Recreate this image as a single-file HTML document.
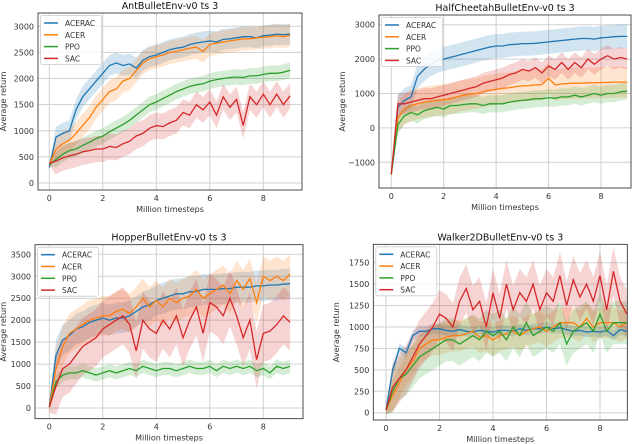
<!DOCTYPE html>
<html><head><meta charset="utf-8"><style>
body{margin:0;background:#fff;width:640px;height:444px;overflow:hidden}
svg{display:block;font-family:"DejaVu Sans","Liberation Sans",sans-serif}
</style></head><body>
<svg id="fig" width="640" height="444" viewBox="0 0 640 444"></svg>
<script>
const xSteps=[0,0.25,0.5,0.75,1,1.25,1.5,1.75,2,2.25,2.5,2.75,3,3.25,3.5,3.75,4,4.25,4.5,4.75,5,5.25,5.5,5.75,6,6.25,6.5,6.75,7,7.25,7.5,7.75,8,8.25,8.5,8.75,9];
const seriesNames=["ACERAC","ACER","PPO","SAC"];
const xTicks=[0,2,4,6,8];
// Ant
const antACERAC=[300,880,950,1000,1400,1650,1800,1950,2100,2250,2300,2250,2280,2200,2350,2420,2450,2500,2550,2580,2600,2650,2680,2700,2720,2700,2750,2760,2780,2800,2800,2780,2820,2830,2850,2840,2850];
const antACER=[350,650,750,820,950,1100,1250,1450,1600,1750,1800,1950,2000,2150,2300,2380,2420,2450,2500,2520,2550,2580,2600,2520,2650,2680,2700,2720,2740,2760,2760,2780,2790,2800,2820,2800,2830];
const antPPO=[350,450,550,620,650,720,780,850,900,980,1050,1120,1200,1300,1400,1500,1550,1620,1680,1750,1800,1850,1880,1900,1950,1980,2000,2020,2030,2020,2050,2050,2080,2100,2100,2120,2160];
const antSAC=[380,420,480,520,550,600,620,650,650,700,680,750,800,900,950,1050,1100,1080,1150,1200,1350,1300,1500,1400,1550,1300,1650,1450,1600,1100,1650,1500,1700,1500,1700,1500,1670];
const antSpread=[200,220,150,250];
const antYTicks=[0,500,1000,1500,2000,2500,3000];
// HalfCheetah
const hcACERAC=[-1350,600,800,900,1500,1700,1850,1950,2000,2050,2100,2150,2200,2250,2300,2350,2380,2380,2420,2430,2450,2450,2460,2480,2500,2520,2540,2560,2580,2600,2600,2580,2620,2630,2650,2660,2660];
const hcACER=[-1350,300,550,650,700,750,780,800,820,850,900,950,980,1000,1050,1100,1120,1150,1170,1200,1220,1230,1250,1260,1450,1250,1280,1290,1300,1300,1310,1310,1320,1320,1330,1330,1330];
const hcPPO=[-1350,100,350,450,380,500,550,600,550,650,650,680,700,700,650,700,700,700,750,780,800,820,850,850,880,860,900,900,950,900,950,1000,950,1000,1000,1050,1070];
const hcSAC=[-1350,700,700,750,800,850,850,900,950,1000,1050,1100,1150,1200,1300,1350,1400,1450,1550,1600,1700,1650,1750,1600,1800,1700,1900,1700,1900,1750,2000,1850,2000,2100,2000,2050,2000];
const hcSpread=[350,450,250,300];
const hcYTicks=[-1000,0,1000,2000,3000];
// Hopper
const hopACERAC=[20,1200,1550,1650,1800,1850,1950,2000,2050,2000,2050,2050,2100,2200,2300,2350,2450,2500,2550,2600,2600,2650,2650,2700,2700,2700,2720,2720,2750,2750,2750,2780,2780,2800,2800,2820,2830];
const hopACER=[20,900,1400,1700,1800,1900,2000,2050,2100,2100,2200,2250,2150,2300,2500,2300,2450,2300,2500,2400,2500,2550,2700,2500,2600,2700,2800,2600,2900,2700,2950,2400,3000,2900,3000,2900,3050];
const hopPPO=[20,600,750,800,800,850,800,750,800,850,800,850,900,850,950,900,850,900,900,850,900,950,900,900,950,850,950,900,950,900,950,850,900,800,950,900,950];
const hopSAC=[20,500,900,1000,1200,1400,1500,1600,1800,1900,2000,2100,1900,1300,2000,1800,1700,2000,1800,2100,1600,2000,2300,1700,2400,2300,2100,2500,2100,1600,2000,1100,1700,1750,1900,2100,1950];
const hopSpread=[350,450,150,650];
const hopYTicks=[0,500,1000,1500,2000,2500,3000,3500];
// Walker
const wkACERAC=[30,500,750,700,900,950,950,980,980,960,950,970,950,940,960,950,940,960,960,950,980,960,980,980,1000,980,990,970,950,960,940,950,940,960,900,970,950];
const wkACER=[30,200,350,500,600,750,800,850,850,880,900,900,920,950,880,900,850,900,920,950,900,950,980,1000,950,1000,1050,1050,1050,1000,1100,1000,1050,1050,1050,1000,1050];
const wkPPO=[30,250,400,450,550,650,700,750,800,850,850,800,850,900,850,950,900,950,850,1000,900,1050,900,950,1000,950,1050,800,950,1000,1050,950,1150,950,1050,1050,1050];
const wkSAC=[30,300,400,500,650,800,900,1000,1150,1100,1000,1300,1450,1200,1300,1000,1400,1100,1500,1200,1400,1300,1500,1200,1400,1300,1600,1250,1550,1350,1500,1300,1600,1200,1650,1300,1150];
const wkSpread=[60,180,250,280];
const wkYTicks=[0,250,500,750,1000,1250,1500,1750];

const colors=["#1f77b4","#ff7f0e","#2ca02c","#d62728"];
const NS="http://www.w3.org/2000/svg";
const fig=document.getElementById('fig');
function mk(tag,attrs,parent){const e=document.createElementNS(NS,tag);for(const k in attrs)e.setAttribute(k,attrs[k]);(parent||fig).appendChild(e);return e;}

function drawChart(cfg){
  const g=mk('g',{});
  
  
  const sx=v=>cfg.x0+(v-0)*(cfg.x8-cfg.x0)/8;
  const sy=v=>cfg.py0+(v-cfg.v0)*(cfg.py1-cfg.py0)/(cfg.v1-cfg.v0);
  // grid
  xTicks.forEach(t=>{const l=mk('line',{x1:sx(t),x2:sx(t),y1:cfg.top,y2:cfg.bottom,stroke:'#d0d0d0','stroke-width':1},g);
    });
  cfg.yTicks.forEach(t=>{const l=mk('line',{x1:cfg.left,x2:cfg.right,y1:sy(t),y2:sy(t),stroke:'#d0d0d0','stroke-width':1},g);
    });
  // series
  cfg.series.forEach((s,i)=>{
    const sp=cfg.spread[i];
    let up=xSteps.map((x,j)=>sx(x).toFixed(1)+','+sy(s[j]+sp*(j===0?0.2:1)).toFixed(1));
    let lo=xSteps.map((x,j)=>sx(x).toFixed(1)+','+sy(s[j]-sp*(j===0?0.2:1)).toFixed(1)).reverse();
    const b=mk('polygon',{points:up.concat(lo).join(' '),fill:colors[i],'fill-opacity':0.2,stroke:'none'},g);
    
    
  });
  cfg.series.forEach((s,i)=>{
    const p=mk('polyline',{points:xSteps.map((x,j)=>sx(x).toFixed(1)+','+sy(s[j]).toFixed(1)).join(' '),fill:'none',stroke:colors[i],'stroke-width':1.3},g);
    
    
  });
  // frame
  const fr=mk('rect',{x:cfg.left,y:cfg.top,width:cfg.right-cfg.left,height:cfg.bottom-cfg.top,fill:'none',stroke:'#222','stroke-width':0.8},g);
  
  // tick labels
  xTicks.forEach(t=>{const tx=mk('text',{x:sx(t),y:cfg.bottom+11,'font-size':8,'text-anchor':'middle',fill:'#333'},g);tx.textContent=t;
    });
  cfg.yTicks.forEach(t=>{const tx=mk('text',{x:cfg.left-4,y:sy(t)+3,'font-size':8,'text-anchor':'end',fill:'#333'},g);tx.textContent=t===-1000?'\u22121000':t;
    });
  const tt=mk('text',{x:(cfg.left+cfg.right)/2,y:cfg.top-4,'font-size':9.5,'text-anchor':'middle',fill:'#111'},g);tt.textContent=cfg.title;
  
  const xl=mk('text',{x:(cfg.left+cfg.right)/2,y:cfg.bottom+22,'font-size':8,'text-anchor':'middle',fill:'#333'},g);xl.textContent='Million timesteps';
  
  const yx=cfg.ylabX, yy=(cfg.top+cfg.bottom)/2;
  const yl=mk('text',{x:yx,y:yy,'font-size':8,'text-anchor':'middle',fill:'#333',transform:`rotate(-90 ${yx} ${yy})`},g);yl.textContent='Average return';
  
  // legend
  const lg=mk('g',{},g);
  mk('rect',{x:cfg.left+2.5,y:cfg.top+2.5,width:61,height:49,rx:2,fill:'#fff','fill-opacity':0.85,stroke:'#ccc','stroke-width':0.8},lg);
  seriesNames.forEach((n,i)=>{
    const yv=cfg.top+10+i*11.8;
    const le=mk('g',{},lg);
    mk('line',{x1:cfg.left+6,x2:cfg.left+20,y1:yv,y2:yv,stroke:colors[i],'stroke-width':1.5},le);
    const t=mk('text',{x:cfg.left+27,y:yv+3,'font-size':7.5,fill:'#333'},le);t.textContent=n;
  });
}
drawChart({id:'ant',title:'AntBulletEnv-v0 ts 3',left:38,right:302,top:13,bottom:190,x0:49.3,x8:263.3,v0:0,py0:183,v1:3000,py1:26.3,yTicks:antYTicks,series:[antACERAC,antACER,antPPO,antSAC],spread:antSpread,ylabX:6});
drawChart({id:'halfcheetah',title:'HalfCheetahBulletEnv-v0 ts 3',left:379,right:631,top:15,bottom:188,x0:391.3,x8:601,v0:-1000,py0:162.3,v1:3000,py1:24.7,yTicks:hcYTicks,series:[hcACERAC,hcACER,hcPPO,hcSAC],spread:hcSpread,ylabX:345});
drawChart({id:'hopper',title:'HopperBulletEnv-v0 ts 3',left:35,right:303,top:244.7,bottom:418.7,x0:49.3,x8:263.3,v0:0,py0:408,v1:3500,py1:254.3,yTicks:hopYTicks,series:[hopACERAC,hopACER,hopPPO,hopSAC],spread:hopSpread,ylabX:6});
drawChart({id:'walker',title:'Walker2DBulletEnv-v0 ts 3',left:373.3,right:627.3,top:244.3,bottom:420,x0:386,x8:600,v0:0,py0:412.7,v1:1750,py1:262.7,yTicks:wkYTicks,series:[wkACERAC,wkACER,wkPPO,wkSAC],spread:wkSpread,ylabX:339});
</script>
</body></html>
